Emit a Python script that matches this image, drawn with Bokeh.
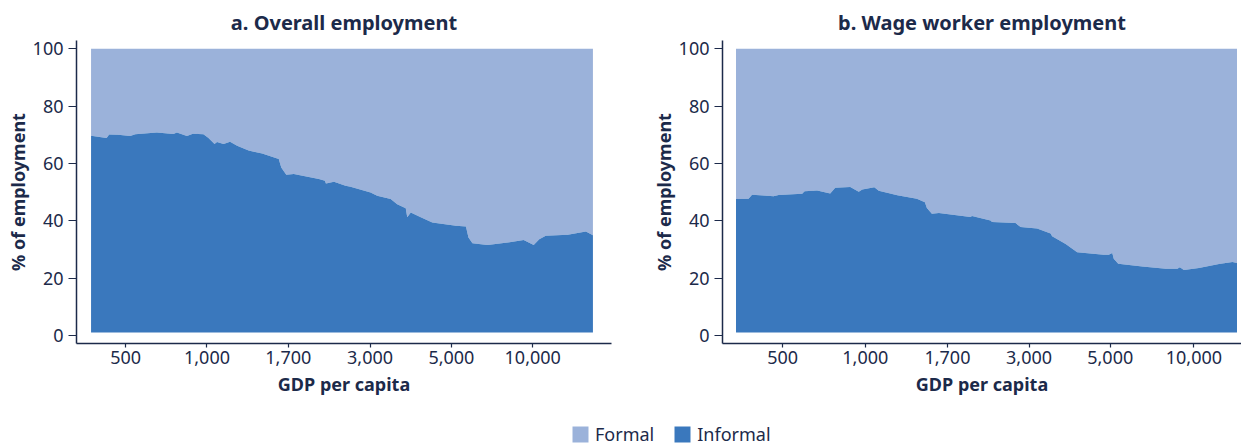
from bokeh.plotting import figure
from bokeh.layouts import column, row
from bokeh.models import Legend, LegendItem, Range1d, FixedTicker
from bokeh.embed import file_html
from bokeh.resources import INLINE

FONT = "Noto Sans"
TEXT = "#1c2a4a"
FORMAL = "#9bb2da"
INFORMAL = "#3a78bd"

# ---- data -------------------------------------------------------------
tick_labels = ["500", "1,000", "1,700", "3,000", "5,000", "10,000"]
y_ticks = [0, 20, 40, 60, 80, 100]

# x = position along the ranked GDP-per-capita axis (0-100)
ticks_a = [6.9, 23.1, 39.3, 55.6, 71.8, 88.0]
rank_a = [0.0, 3.1, 3.6, 5.4, 7.8, 8.8, 13.1, 16.4, 17.1, 19.1, 20.3, 22.4, 23.4,
          24.6, 25.1, 26.4, 27.7, 29.1, 31.4, 34.1, 37.4, 37.9, 38.9, 40.4, 45.4,
          46.6, 46.8, 48.4, 50.7, 51.7, 55.7, 57.0, 59.7, 61.0, 62.7, 63.0, 63.7,
          65.7, 68.0, 72.7, 74.7, 75.2, 76.0, 79.0, 83.0, 86.2, 88.2, 89.3, 90.6,
          95.0, 98.6, 100.0]
informal_a = [69.7, 68.9, 70.1, 70.0, 69.6, 70.2, 70.8, 70.3, 70.8, 69.6, 70.4, 70.2,
              68.9, 66.8, 67.5, 66.8, 67.6, 66.2, 64.5, 63.5, 61.6, 58.6, 56.1, 56.3,
              54.6, 54.0, 53.0, 53.6, 52.2, 51.9, 49.9, 48.7, 47.6, 45.8, 44.4, 41.2,
              42.9, 41.2, 39.4, 38.3, 38.0, 34.2, 32.2, 31.6, 32.4, 33.3, 31.6, 33.6,
              34.8, 35.1, 36.3, 35.0]

ticks_b = [9.3, 25.8, 42.2, 58.5, 74.7, 91.4]
rank_b = [0.0, 2.5, 3.2, 5.5, 7.5, 8.5, 13.2, 13.7, 16.2, 18.8, 19.8, 22.8, 24.5,
          25.2, 27.6, 28.5, 32.2, 36.1, 37.7, 38.1, 39.1, 40.5, 46.8, 47.1, 50.8,
          51.1, 55.8, 56.8, 60.1, 62.8, 63.1, 65.8, 68.1, 73.4, 74.4, 75.1, 75.4,
          76.3, 81.1, 85.8, 88.1, 88.6, 89.4, 92.4, 96.4, 99.1, 100.0]
informal_b = [47.6, 47.7, 49.1, 48.8, 48.6, 49.0, 49.4, 50.3, 50.6, 49.5, 51.5, 51.8,
              50.1, 50.9, 51.7, 50.5, 48.9, 47.7, 46.5, 44.5, 42.5, 42.7, 41.3, 41.7,
              40.1, 39.6, 39.2, 37.8, 37.3, 35.6, 34.6, 31.9, 29.0, 28.2, 28.2, 28.8,
              26.8, 25.0, 24.1, 23.3, 23.3, 23.8, 22.8, 23.5, 24.9, 25.6, 25.3]

AREA_BASE = 1.0
TOTAL = 100.0


def make_panel(title, rank, informal, ticks, width, x_range, border_left, border_right):
    p = figure(width=width, height=403, x_range=x_range, y_range=Range1d(-2.8, 102.9),
               output_backend="svg", toolbar_location=None,
               min_border_left=border_left, min_border_right=border_right,
               min_border_top=40, min_border_bottom=60)
    p.title.text = title
    p.title.align = "center"
    p.title.text_font = FONT
    p.title.text_font_size = "20px"
    p.title.text_font_style = "bold"
    p.title.text_color = TEXT
    p.title.standoff = 10
    p.outline_line_color = None
    p.grid.visible = False

    p.varea(x=rank, y1=informal, y2=[TOTAL] * len(rank), fill_color=FORMAL)
    p.varea(x=rank, y1=[AREA_BASE] * len(rank), y2=informal, fill_color=INFORMAL)

    p.xaxis.ticker = FixedTicker(ticks=ticks)
    p.xaxis.major_label_overrides = {t: l for t, l in zip(ticks, tick_labels)}
    p.yaxis.ticker = FixedTicker(ticks=y_ticks)
    p.xaxis.axis_label = "GDP per capita"
    p.yaxis.axis_label = "% of employment"
    for ax in (p.xaxis[0], p.yaxis[0]):
        ax.axis_line_color = TEXT
        ax.axis_line_width = 1.5
        ax.major_tick_line_color = TEXT
        ax.major_tick_line_width = 1.2
        ax.minor_tick_line_color = None
        ax.major_label_text_font = FONT
        ax.major_label_text_font_size = "18px"
        ax.major_label_text_color = TEXT
        ax.axis_label_text_font = FONT
        ax.axis_label_text_font_size = "18px"
        ax.axis_label_text_font_style = "bold"
        ax.axis_label_text_color = TEXT
        ax.major_tick_in = 0
    p.xaxis.major_tick_out = 4
    p.xaxis.major_label_standoff = 3
    p.xaxis.axis_label_standoff = 5
    p.yaxis.major_tick_out = 8
    p.yaxis.major_label_standoff = 5
    p.yaxis.axis_label_standoff = 0
    return p


fa = make_panel("a. Overall employment", rank_a, informal_a, ticks_a, 618,
                Range1d(-2.9, 103.7), 76, 7)
fb = make_panel("b. Wage worker employment", rank_b, informal_b, ticks_b, 623,
                Range1d(-2.7, 100.9), 104, 0)

# legend strip: swatches reuse the panel-a series, drawn outside the visible range
fleg = figure(width=1241, height=43, x_range=Range1d(-20, -10), y_range=Range1d(0, 1),
              x_axis_type=None, y_axis_type=None, min_border=0,
              output_backend="svg", toolbar_location=None)
fleg.outline_line_color = None
fleg.grid.visible = False
r_formal = fleg.varea(x=rank_a, y1=informal_a, y2=[TOTAL] * len(rank_a), fill_color=FORMAL)
r_informal = fleg.varea(x=rank_a, y1=[AREA_BASE] * len(rank_a), y2=informal_a,
                        fill_color=INFORMAL)
legend = Legend(items=[LegendItem(label="Formal", renderers=[r_formal]),
                       LegendItem(label="Informal", renderers=[r_informal])],
                orientation="horizontal", location=(570, 0), padding=0, margin=0,
                spacing=18, label_standoff=5, glyph_width=20, glyph_height=20,
                label_height=20, label_text_font=FONT, label_text_font_size="18px",
                label_text_color=TEXT, border_line_color=None,
                background_fill_alpha=0)
fleg.add_layout(legend)

layout = column(row(fa, fb), fleg)
open("out.html", "w").write(file_html(layout, INLINE))
